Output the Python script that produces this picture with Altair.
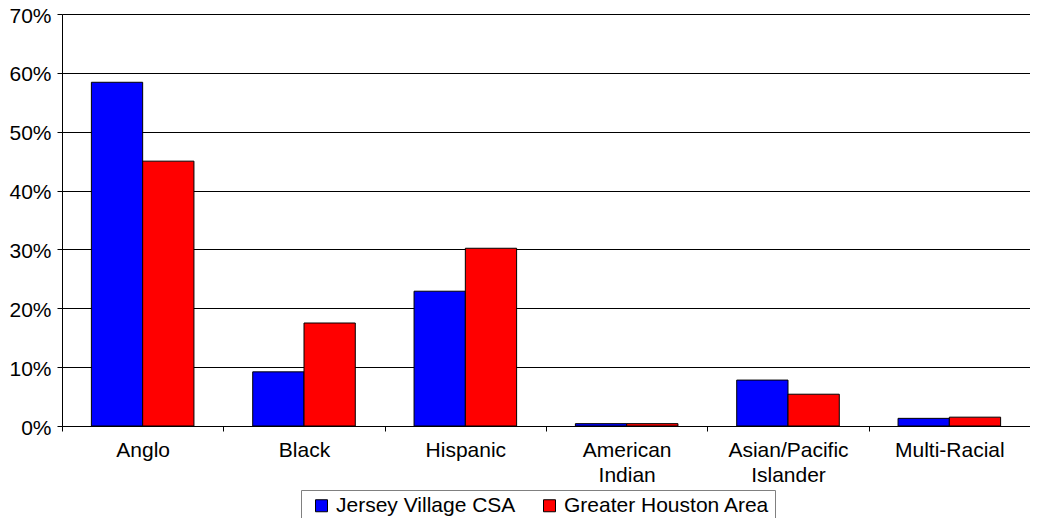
import altair as alt
import pandas as pd

categories = ["Anglo", "Black", "Hispanic", "American Indian", "Asian/Pacific Islander", "Multi-Racial"]
series = ["Jersey Village CSA", "Greater Houston Area"]
jersey = [0.584, 0.092, 0.229, 0.004, 0.078, 0.013]
houston = [0.450, 0.175, 0.302, 0.004, 0.054, 0.015]
y_ticks = [0, 0.1, 0.2, 0.3, 0.4, 0.5, 0.6, 0.7]

rows = []
for c, a, b in zip(categories, jersey, houston):
    rows.append({"cat": c, "series": series[0], "value": a})
    rows.append({"cat": c, "series": series[1], "value": b})
df = pd.DataFrame(rows)

FONT = "Liberation Sans"

label_expr = (
    "datum.label == 'American Indian' ? ['American', 'Indian'] : "
    "datum.label == 'Asian/Pacific Islander' ? ['Asian/Pacific', 'Islander'] : datum.label"
)

chart = alt.Chart(df).mark_bar(stroke="black", strokeWidth=1).encode(
    x=alt.X("cat:N", sort=categories, title=None,
            scale=alt.Scale(paddingInner=0, paddingOuter=0),
            axis=alt.Axis(labelAngle=0, labelExpr=label_expr, tickBand="extent",
                          labelFont=FONT, labelFontSize=21, labelColor="black",
                          labelLineHeight=25, labelPadding=8, tickSize=5,
                          tickColor="black", domainColor="black", grid=False)),
    xOffset=alt.XOffset("series:N", sort=series,
                        scale=alt.Scale(paddingInner=0, paddingOuter=0.573)),
    y=alt.Y("value:Q", title=None,
            scale=alt.Scale(domain=[0, 0.7], nice=False),
            axis=alt.Axis(values=y_ticks, format=".0%", labelFont=FONT, labelFontSize=21,
                          labelColor="black", labelPadding=6, tickSize=5, labelOffset=2,
                          tickColor="black", domainColor="black",
                          gridColor="black", gridOpacity=1)),
    color=alt.Color("series:N", sort=series,
                    scale=alt.Scale(domain=series, range=["#0000FF", "#FF0000"]),
                    legend=alt.Legend(title=None, orient="none", legendX=239, legendY=476,
                                      direction="horizontal", symbolType="square",
                                      symbolSize=144, symbolStrokeColor="black",
                                      symbolStrokeWidth=1, symbolOpacity=1,
                                      symbolOffset=5, labelOffset=4,
                                      labelFont=FONT, labelFontSize=21, labelColor="black",
                                      strokeColor="#808080", padding=5, columnPadding=18,
                                      labelLimit=400)),
).properties(
    width=968, height=412,
    autosize=alt.AutoSizeParams(type="none"),
    padding={"left": 54, "top": 6, "right": 0, "bottom": 92},
).configure_view(stroke=None).configure(background="white")

chart.save("out.html", embed_options={"renderer": "svg", "actions": False})
